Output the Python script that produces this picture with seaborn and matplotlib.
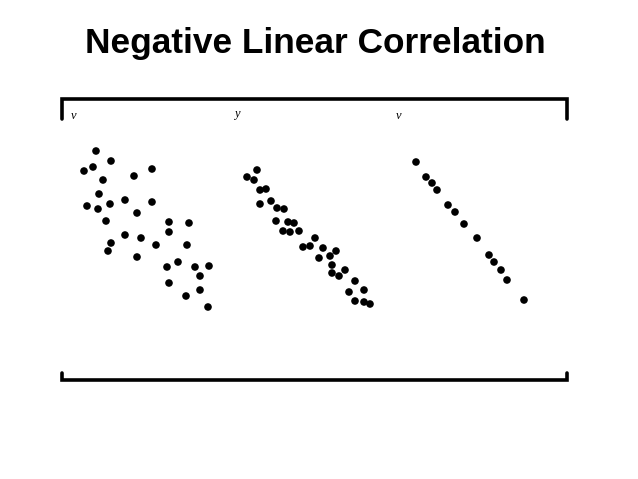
import matplotlib
matplotlib.use("Agg")
import matplotlib.pyplot as plt
import pandas as pd
import seaborn as sns

# values (x, y per panel)
p1_x = [3.4, 4.9, 2.2, 3.1, 4.1, 7.2, 9.0, 3.7, 2.5, 3.6, 4.8, 6.3, 9.0, 4.4, 7.5, 10.7, 12.7,
        10.7, 6.3, 7.9, 4.9, 4.6, 9.4, 12.5, 7.5, 10.5, 11.6, 13.3, 14.7, 13.8, 10.7, 13.8, 12.4, 14.6]
p1_y = [22.9, 21.9, 20.9, 21.3, 20.0, 20.4, 21.1, 18.6, 17.4, 17.1, 17.6, 18.0, 17.8, 15.9, 16.7, 15.8, 15.7,
        14.8, 14.5, 14.2, 13.7, 12.9, 13.5, 13.5, 12.3, 11.3, 11.8, 11.3, 11.4, 10.4, 9.7, 9.0, 8.4, 7.3]

p2_x = [3.1, 2.1, 2.8, 3.4, 4.0, 3.4, 4.5, 5.1, 5.8, 5.0, 6.2, 6.8, 5.7, 6.4, 7.3, 8.9,
        7.7, 8.4, 9.7, 11.0, 9.3, 10.4, 10.6, 11.9, 10.6, 11.3, 12.9, 12.3, 13.8, 12.9, 13.8, 14.4]
p2_y = [21.0, 20.3, 20.0, 19.0, 19.1, 17.6, 17.9, 17.2, 17.1, 15.9, 15.8, 15.7, 14.9, 14.8, 14.9, 14.2,
        13.3, 13.4, 13.2, 12.9, 12.2, 12.4, 11.5, 11.0, 10.7, 10.4, 9.9, 8.8, 9.0, 7.9, 7.8, 7.6]

p3_x = [2.6, 3.6, 4.2, 4.7, 5.8, 6.5, 7.4, 8.7, 9.9, 10.4, 11.1, 11.7, 13.4]
p3_y = [21.8, 20.3, 19.7, 19.0, 17.5, 16.8, 15.6, 14.2, 12.5, 11.8, 11.0, 10.0, 8.0]

axis_labels = ["v", "y", "v"]
title = "Negative Linear Correlation"

sns.set_style("white")
plt.rcParams['font.family'] = ['Liberation Sans', 'DejaVu Sans']
plt.rcParams['text.color'] = 'black'

W, H = 638, 479
fig = plt.figure(figsize=(W / 100, H / 100), dpi=100)

# overlay in pixel units for frame and title
bg = fig.add_axes([0, 0, 1, 1])
bg.set_xlim(0, W)
bg.set_ylim(H, 0)
bg.axis("off")
lw = 2.6
bg.plot([61.5, 61.5, 566.5, 566.5], [119, 99, 99, 119], color="black", lw=lw, solid_joinstyle="miter")
bg.plot([61.5, 61.5, 566.5, 566.5], [373, 380, 380, 373], color="black", lw=lw, solid_joinstyle="miter")
bg.text(315, 53, title, ha="center", va="baseline", fontsize=25.4, fontweight="bold", color="black")

panels = [(p1_x, p1_y, 62, 226), (p2_x, p2_y, 226, 390), (p3_x, p3_y, 390, 567)]
label_pos = [(74, 116), (237, 114), (399, 116)]
for (xs, ys, x0, x1), lab, (lx, ly) in zip(panels, axis_labels, label_pos):
    ax = fig.add_axes([x0 / W, (H - 380) / H, (x1 - x0) / W, 280 / H])
    df = pd.DataFrame({"x": xs, "y": ys})
    sns.scatterplot(data=df, x="x", y="y", ax=ax, color="black", s=30, edgecolor="none", legend=False)
    ax.set_xlim(0, (x1 - x0) / 10)
    ax.set_ylim(0, 28)
    ax.axis("off")
    bg.text(lx, ly, lab, ha="center", va="center", fontsize=9, fontstyle="italic", color="black",
            family=["Liberation Serif", "DejaVu Serif"])

fig.savefig("out.png", dpi=100)
